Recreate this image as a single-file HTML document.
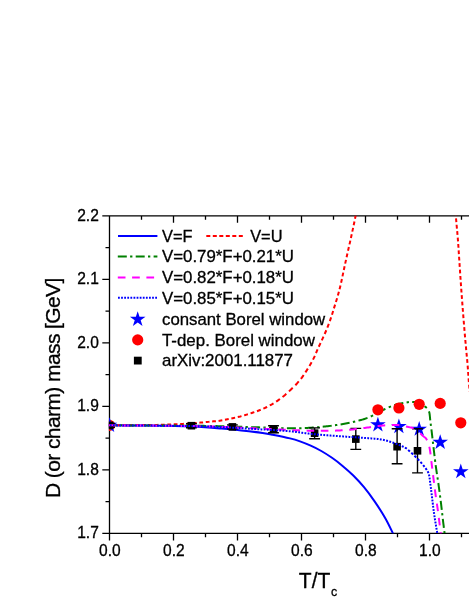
<!DOCTYPE html><html><head><meta charset="utf-8"><style>html,body{margin:0;padding:0;background:#fff}body{width:469px;height:607px;overflow:hidden}svg{display:block;will-change:transform}text{font-family:"Liberation Sans",sans-serif;fill:#000;stroke:#000;stroke-width:0.3px}</style></head><body>
<svg width="469" height="607" viewBox="0 0 469 607">
<rect width="469" height="607" fill="#fff"/>
<defs><clipPath id="cp"><rect x="108.9" y="215.8" width="400" height="317.5"/></clipPath></defs>
<path d="M109.5,215.2 V533.9 M108.8,533.3 H469 M108.8,215.8 H469 M109.50,533.3 v7.2 M141.50,533.3 v4.0 M141.50,215.8 v4.0 M173.50,533.3 v7.2 M173.50,215.8 v7.0 M205.50,533.3 v4.0 M205.50,215.8 v4.0 M237.50,533.3 v7.2 M237.50,215.8 v7.0 M269.50,533.3 v4.0 M269.50,215.8 v4.0 M301.50,533.3 v7.2 M301.50,215.8 v7.0 M333.50,533.3 v4.0 M333.50,215.8 v4.0 M365.50,533.3 v7.2 M365.50,215.8 v7.0 M397.50,533.3 v4.0 M397.50,215.8 v4.0 M429.50,533.3 v7.2 M429.50,215.8 v7.0 M461.50,533.3 v4.0 M461.50,215.8 v4.0 M109.5,215.80 h-7.2 M109.5,247.55 h-4.0 M109.5,279.30 h-7.2 M109.5,311.05 h-4.0 M109.5,342.80 h-7.2 M109.5,374.55 h-4.0 M109.5,406.30 h-7.2 M109.5,438.05 h-4.0 M109.5,469.80 h-7.2 M109.5,501.55 h-4.0 M109.5,533.30 h-7.2" stroke="#000" stroke-width="1.3" fill="none"/>
<g clip-path="url(#cp)" fill="none" stroke-width="2" stroke-linejoin="round">
<path d="M108.00,425.30 C115.00,425.33 138.83,425.40 150.00,425.50 C161.17,425.60 168.17,425.75 175.00,425.90 C181.83,426.05 186.00,426.18 191.00,426.40 C196.00,426.62 200.17,426.87 205.00,427.20 C209.83,427.53 213.95,427.87 220.00,428.40 C226.05,428.93 234.20,429.63 241.30,430.40 C248.40,431.17 257.38,432.28 262.60,433.00 C267.82,433.72 268.03,433.80 272.60,434.70 C277.17,435.60 285.43,437.28 290.00,438.40 C294.57,439.52 296.55,440.18 300.00,441.40 C303.45,442.62 307.15,444.10 310.70,445.70 C314.25,447.30 317.75,448.98 321.30,451.00 C324.85,453.02 328.45,455.32 332.00,457.80 C335.55,460.28 339.05,462.95 342.60,465.90 C346.15,468.85 349.73,471.95 353.30,475.50 C356.87,479.05 360.45,482.88 364.00,487.20 C367.55,491.52 371.05,496.23 374.60,501.40 C378.15,506.57 382.27,512.92 385.30,518.20 C388.33,523.48 391.02,529.47 392.80,533.10 C394.58,536.73 395.47,538.85 396.00,540.00" stroke="#0000ff"/>
<path d="M109.76,425.29 L111.01,425.28 L112.26,425.27 L113.51,425.27 M116.16,425.25 L117.41,425.25 L118.66,425.24 L119.91,425.23 M122.56,425.22 L123.81,425.21 L125.06,425.21 L126.31,425.20 M128.96,425.18 L130.21,425.18 L131.46,425.17 L132.71,425.16 M135.36,425.14 L136.61,425.13 L137.86,425.12 L139.11,425.11 M141.76,425.09 L143.01,425.08 L144.26,425.07 L145.51,425.06 M148.16,425.03 L149.41,425.01 L150.66,424.99 L151.91,424.97 M154.56,424.93 L155.81,424.90 L157.06,424.88 L158.31,424.85 M160.96,424.79 L162.21,424.76 L163.46,424.73 L164.71,424.69 M167.36,424.61 L168.61,424.56 L169.86,424.51 L171.11,424.47 M173.76,424.35 L175.01,424.30 L176.26,424.24 L177.51,424.18 M180.16,424.04 L181.41,423.97 L182.66,423.90 L183.91,423.82 M186.56,423.65 L187.81,423.57 L189.06,423.48 L190.31,423.40 M192.96,423.20 L194.21,423.11 L195.46,423.02 L196.71,422.92 M199.36,422.71 L200.61,422.60 L201.86,422.49 L203.11,422.38 M205.76,422.12 L207.01,422.00 L208.26,421.87 L209.51,421.75 M212.16,421.48 L213.41,421.36 L214.66,421.24 L215.91,421.13 M218.56,420.92 L219.81,420.73 L221.06,420.52 L222.31,420.29 M224.96,419.76 L226.21,419.50 L227.46,419.24 L228.71,418.98 M231.36,418.42 L232.61,418.16 L233.86,417.90 L235.11,417.64 M237.76,417.06 L239.01,416.77 L240.26,416.47 L241.51,416.14 M244.16,415.40 L245.41,415.03 L246.66,414.64 L247.91,414.25 M250.56,413.38 L251.81,412.96 L253.06,412.54 L254.31,412.11 M256.96,411.19 L258.21,410.73 L259.46,410.26 L260.71,409.78 M263.36,408.67 L264.61,408.09 L265.86,407.49 L267.11,406.86 M269.76,405.45 L271.01,404.76 L272.26,404.06 L273.51,403.32 M276.16,401.64 L277.41,400.80 L278.66,399.93 L279.91,399.04 M282.56,397.05 L283.81,396.04 L285.06,394.98 L286.31,393.86 M288.96,391.37 L290.21,390.18 L291.46,388.99 L292.71,387.80 M295.35,385.20 L296.53,383.95 L297.67,382.70 L298.76,381.45 M300.92,378.80 L301.87,377.55 L302.77,376.30 L303.64,375.05 M305.42,372.40 L306.24,371.15 L307.05,369.90 L307.84,368.65 M309.45,366.00 L310.19,364.75 L310.90,363.50 L311.60,362.25 M313.01,359.60 L313.65,358.35 L314.27,357.10 L314.87,355.85 M316.02,353.20 L316.52,351.95 L317.04,350.70 L317.57,349.45 M318.77,346.80 L319.36,345.55 L319.94,344.30 L320.53,343.05 M321.78,340.40 L322.36,339.15 L322.93,337.90 L323.49,336.65 M324.67,334.00 L325.22,332.75 L325.76,331.50 L326.29,330.25 M327.36,327.60 L327.85,326.35 L328.34,325.10 L328.81,323.85 M329.80,321.20 L330.25,319.95 L330.69,318.70 L331.12,317.45 M331.99,314.80 L332.38,313.55 L332.76,312.30 L333.14,311.05 M333.94,308.40 L334.32,307.15 L334.71,305.90 L335.10,304.65 M335.93,302.00 L336.32,300.75 L336.71,299.50 L337.09,298.25 M337.86,295.60 L338.21,294.35 L338.55,293.10 L338.88,291.85 M339.56,289.20 L339.87,287.95 L340.17,286.70 L340.47,285.45 M341.09,282.80 L341.38,281.55 L341.65,280.30 L341.92,279.05 M342.47,276.40 L342.73,275.15 L342.99,273.90 L343.25,272.65 M343.81,270.00 L344.08,268.75 L344.35,267.50 L344.61,266.25 M345.19,263.60 L345.46,262.35 L345.73,261.10 L346.00,259.85 M346.58,257.20 L346.86,255.95 L347.14,254.70 L347.42,253.45 M348.02,250.80 L348.31,249.55 L348.60,248.30 L348.88,247.05 M349.49,244.40 L349.77,243.15 L350.05,241.90 L350.33,240.65 M350.91,238.00 L351.19,236.75 L351.46,235.50 L351.74,234.25 M352.31,231.60 L352.58,230.35 L352.85,229.10 L353.12,227.85 M353.67,225.20 L353.94,223.95 L354.20,222.70 L354.46,221.45 M355.00,218.80 L355.26,217.55 L355.52,216.30 L355.78,215.05 M356.31,212.40 L356.57,211.15 L356.82,209.90 L357.07,208.65" stroke="#ff0000" stroke-width="2"/>
<path d="M455.20,206.00 L455.27,207.11 L455.33,208.22 L455.40,209.33 M455.56,211.98 L455.64,213.23 L455.73,214.48 L455.82,215.73 M456.02,218.38 L456.13,219.63 L456.24,220.88 L456.35,222.13 M456.59,224.78 L456.70,226.03 L456.82,227.28 L456.94,228.53 M457.18,231.18 L457.29,232.43 L457.40,233.68 L457.51,234.93 M457.74,237.58 L457.84,238.83 L457.94,240.08 L458.03,241.33 M458.22,243.98 L458.31,245.23 L458.40,246.48 L458.48,247.73 M458.65,250.38 L458.73,251.63 L458.81,252.88 L458.89,254.13 M459.06,256.78 L459.15,258.03 L459.23,259.28 L459.31,260.53 M459.49,263.18 L459.57,264.43 L459.65,265.68 L459.74,266.93 M459.92,269.58 L460.00,270.83 L460.08,272.08 L460.17,273.33 M460.34,275.98 L460.43,277.23 L460.51,278.48 L460.60,279.73 M460.78,282.38 L460.87,283.63 L460.95,284.88 L461.04,286.13 M461.23,288.78 L461.32,290.03 L461.41,291.28 L461.50,292.53 M461.70,295.18 L461.79,296.43 L461.89,297.68 L461.98,298.93 M462.18,301.58 L462.28,302.83 L462.37,304.08 L462.47,305.33 M462.67,307.98 L462.77,309.23 L462.87,310.48 L462.96,311.73 M463.17,314.38 L463.27,315.63 L463.37,316.88 L463.47,318.13 M463.68,320.78 L463.79,322.03 L463.89,323.28 L463.99,324.53 M464.21,327.18 L464.32,328.43 L464.42,329.68 L464.53,330.93 M464.76,333.58 L464.86,334.83 L464.97,336.08 L465.08,337.33 M465.31,339.98 L465.42,341.23 L465.53,342.48 L465.64,343.73 M465.88,346.38 L466.00,347.63 L466.11,348.88 L466.23,350.13 M466.49,352.78 L466.61,354.03 L466.73,355.28 L466.85,356.53 M467.10,359.18 L467.21,360.43 L467.33,361.68 L467.43,362.93 M467.65,365.58 L467.75,366.83 L467.84,368.08 L467.94,369.33 M468.12,371.98 L468.21,373.23 L468.29,374.48 L468.38,375.73 M468.57,378.38 L468.67,379.63 L468.77,380.88 L468.88,382.13 M469.12,384.78 L469.23,386.03 L469.35,387.28 L469.47,388.53 M469.72,391.18 L469.80,392.00" stroke="#ff0000" stroke-width="2"/>
<path d="M108.00,425.30 L109.48,425.31 L110.97,425.31 L112.45,425.32 L113.93,425.33 L115.41,425.33 L116.90,425.34 M120.20,425.35 L121.35,425.35 L122.50,425.36 M125.80,425.37 L127.08,425.37 L128.37,425.37 L129.65,425.38 L130.94,425.38 L132.23,425.39 L133.51,425.39 L134.80,425.39 M138.10,425.41 L139.25,425.41 L140.40,425.41 M143.70,425.43 L144.98,425.43 L146.27,425.43 L147.55,425.44 L148.84,425.44 L150.13,425.45 L151.41,425.45 L152.70,425.46 M156.00,425.47 L157.15,425.48 L158.30,425.48 M161.60,425.50 L162.88,425.51 L164.17,425.51 L165.45,425.52 L166.74,425.53 L168.03,425.53 L169.31,425.54 L170.60,425.55 M173.90,425.57 L175.05,425.57 L176.20,425.58 M179.50,425.60 L180.78,425.61 L182.07,425.62 L183.35,425.63 L184.64,425.64 L185.93,425.65 L187.21,425.66 L188.50,425.67 M191.80,425.70 L192.95,425.72 L194.10,425.73 M197.40,425.77 L198.68,425.78 L199.97,425.80 L201.25,425.82 L202.54,425.84 L203.83,425.86 L205.11,425.88 L206.40,425.90 M209.70,425.96 L210.85,425.98 L212.00,426.01 M215.30,426.08 L216.58,426.11 L217.87,426.14 L219.15,426.17 L220.44,426.20 L221.73,426.23 L223.01,426.27 L224.30,426.30 M227.60,426.39 L228.75,426.42 L229.90,426.46 M233.20,426.55 L234.48,426.59 L235.77,426.63 L237.05,426.67 L238.34,426.71 L239.63,426.76 L240.91,426.80 L242.20,426.84 M245.50,426.95 L246.65,426.98 L247.80,427.02 M251.10,427.13 L252.38,427.17 L253.67,427.21 L254.95,427.25 L256.24,427.29 L257.53,427.33 L258.81,427.37 L260.10,427.40 M263.40,427.50 L264.55,427.53 L265.70,427.57 M269.00,427.67 L270.28,427.72 L271.57,427.76 L272.85,427.81 L274.14,427.85 L275.43,427.90 L276.71,427.94 L278.00,427.99 M281.30,428.10 L282.45,428.13 L283.60,428.17 M286.90,428.25 L288.18,428.27 L289.47,428.29 L290.75,428.31 L292.04,428.32 L293.33,428.32 L294.61,428.32 L295.90,428.31 M299.20,428.24 L300.35,428.20 L301.50,428.16 M304.80,428.01 L306.08,427.95 L307.37,427.88 L308.65,427.81 L309.94,427.74 L311.23,427.66 L312.51,427.58 L313.80,427.50 M317.10,427.25 L318.25,427.15 L319.40,427.05 M322.70,426.74 L323.98,426.61 L325.27,426.48 L326.55,426.33 L327.84,426.19 L329.13,426.04 L330.41,425.88 L331.70,425.72 M335.00,425.27 L336.15,425.11 L337.30,424.93 M340.60,424.40 L341.88,424.18 L343.17,423.95 L344.45,423.71 L345.74,423.46 L347.03,423.20 L348.31,422.94 L349.60,422.67 M352.90,421.95 L354.05,421.69 L355.20,421.42 M358.50,420.63 L359.78,420.30 L361.07,419.96 L362.35,419.60 L363.64,419.21 L364.93,418.80 L366.21,418.36 L367.50,417.89 M370.80,416.50 L371.95,415.95 L373.10,415.36 M376.40,413.61 L377.68,412.94 L378.97,412.25 L380.25,411.54 L381.54,410.83 L382.83,410.14 L384.11,409.50 L385.40,408.89 M388.70,407.41 L389.85,406.92 L391.00,406.44 M394.30,405.16 L395.58,404.71 L396.87,404.31 L398.15,403.96 L399.44,403.66 L400.73,403.41 L402.01,403.19 L403.30,402.99 M406.60,402.48 L407.75,402.28 L408.90,402.11 M412.20,401.90 L413.48,401.96 L414.77,402.06 L416.05,402.23 L417.34,402.49 L418.63,402.86 L419.91,403.39 L421.20,404.05 M424.50,406.19 L425.65,407.06 L426.80,408.08 M428.99,411.38 L429.37,412.67 L429.59,413.95 L429.77,415.24 L429.90,416.52 L430.01,417.81 L430.13,419.09 L430.26,420.38 M430.67,423.68 L430.82,424.83 L430.97,425.98 M431.40,429.28 L431.56,430.57 L431.72,431.85 L431.87,433.14 L432.02,434.42 L432.16,435.71 L432.31,436.99 L432.46,438.28 M432.84,441.58 L432.97,442.73 L433.10,443.88 M433.49,447.18 L433.64,448.47 L433.80,449.75 L433.95,451.04 L434.10,452.32 L434.25,453.61 L434.40,454.89 L434.55,456.18 M434.94,459.48 L435.08,460.63 L435.23,461.78 M435.65,465.08 L435.82,466.37 L436.00,467.65 L436.18,468.94 L436.37,470.22 L436.56,471.51 L436.76,472.79 L436.96,474.08 M437.47,477.38 L437.65,478.53 L437.82,479.68 M438.31,482.98 L438.50,484.27 L438.67,485.55 L438.85,486.84 L439.03,488.12 L439.20,489.41 L439.38,490.69 L439.55,491.98 M439.98,495.28 L440.13,496.43 L440.28,497.58 M440.70,500.88 L440.86,502.17 L441.02,503.45 L441.17,504.74 L441.33,506.02 L441.48,507.31 L441.63,508.59 L441.77,509.88 M442.15,513.18 L442.28,514.33 L442.41,515.48 M442.79,518.78 L442.94,520.07 L443.09,521.35 L443.24,522.64 L443.40,523.92 L443.56,525.21 L443.72,526.49 L443.87,527.78 M444.29,531.08 L444.43,532.23 L444.57,533.38 M444.98,536.68 L445.12,537.79 L445.26,538.89 L445.40,540.00" stroke="#008000"/>
</g>
<g clip-path="url(#cp)">
<circle cx="109.5" cy="425.4" r="5.6" fill="#ff0000"/>
<circle cx="377.9" cy="409.8" r="5.6" fill="#ff0000"/>
<circle cx="398.9" cy="408.0" r="5.6" fill="#ff0000"/>
<circle cx="419.2" cy="404.3" r="5.6" fill="#ff0000"/>
<circle cx="440.2" cy="403.4" r="5.6" fill="#ff0000"/>
<circle cx="460.8" cy="422.8" r="5.6" fill="#ff0000"/>
<polygon points="109.50,417.20 111.34,422.87 117.30,422.87 112.48,426.37 114.32,432.03 109.50,428.53 104.68,432.03 106.52,426.37 101.70,422.87 107.66,422.87" fill="#0000ff"/>
<polygon points="377.90,416.70 379.74,422.37 385.70,422.37 380.88,425.87 382.72,431.53 377.90,428.03 373.08,431.53 374.92,425.87 370.10,422.37 376.06,422.37" fill="#0000ff"/>
<polygon points="398.90,418.40 400.74,424.07 406.70,424.07 401.88,427.57 403.72,433.23 398.90,429.73 394.08,433.23 395.92,427.57 391.10,424.07 397.06,424.07" fill="#0000ff"/>
<polygon points="419.20,421.00 421.04,426.67 427.00,426.67 422.18,430.17 424.02,435.83 419.20,432.33 414.38,435.83 416.22,430.17 411.40,426.67 417.36,426.67" fill="#0000ff"/>
<polygon points="440.20,434.20 442.04,439.87 448.00,439.87 443.18,443.37 445.02,449.03 440.20,445.53 435.38,449.03 437.22,443.37 432.40,439.87 438.36,439.87" fill="#0000ff"/>
<polygon points="460.80,463.50 462.64,469.17 468.60,469.17 463.78,472.67 465.62,478.33 460.80,474.83 455.98,478.33 457.82,472.67 453.00,469.17 458.96,469.17" fill="#0000ff"/>
<path d="M109.5,423.5 V427.3 M104.1,423.5 H114.9 M104.1,427.3 H114.9" stroke="#000" stroke-width="1.4" fill="none"/>
<rect x="105.7" y="421.6" width="7.6" height="7.6" fill="#000"/>
<path d="M191.4,423.7 V427.7 M186.0,423.7 H196.8 M186.0,427.7 H196.8" stroke="#000" stroke-width="1.4" fill="none"/>
<rect x="187.6" y="421.9" width="7.6" height="7.6" fill="#000"/>
<path d="M232.4,424.9 V428.9 M227.0,424.9 H237.8 M227.0,428.9 H237.8" stroke="#000" stroke-width="1.4" fill="none"/>
<rect x="228.6" y="423.1" width="7.6" height="7.6" fill="#000"/>
<path d="M273.5,425.8 V432.8 M268.1,425.8 H278.9 M268.1,432.8 H278.9" stroke="#000" stroke-width="1.4" fill="none"/>
<rect x="269.7" y="425.5" width="7.6" height="7.6" fill="#000"/>
<path d="M314.6,427.9 V438.8 M309.2,427.9 H320.0 M309.2,438.8 H320.0" stroke="#000" stroke-width="1.4" fill="none"/>
<rect x="310.8" y="429.4" width="7.6" height="7.6" fill="#000"/>
<path d="M355.8,428.4 V449.4 M350.4,428.4 H361.2 M350.4,449.4 H361.2" stroke="#000" stroke-width="1.4" fill="none"/>
<rect x="352.0" y="435.3" width="7.6" height="7.6" fill="#000"/>
<path d="M397.1,428.8 V463.8 M391.7,428.8 H402.5 M391.7,463.8 H402.5" stroke="#000" stroke-width="1.4" fill="none"/>
<rect x="393.3" y="442.9" width="7.6" height="7.6" fill="#000"/>
<path d="M417.5,428.8 V472.9 M412.1,428.8 H422.9 M412.1,472.9 H422.9" stroke="#000" stroke-width="1.4" fill="none"/>
<rect x="413.7" y="447.0" width="7.6" height="7.6" fill="#000"/>
</g>
<g clip-path="url(#cp)" fill="none" stroke-width="2" stroke-linejoin="round">
<path d="M108.00,425.30 L109.48,425.31 L110.96,425.33 L112.45,425.34 L113.93,425.35 L115.41,425.36 M122.01,425.40 L123.28,425.41 L124.54,425.42 L125.81,425.43 L127.08,425.44 L128.34,425.45 L129.61,425.46 M136.21,425.50 L137.48,425.51 L138.74,425.52 L140.01,425.53 L141.28,425.53 L142.54,425.54 L143.81,425.55 M150.41,425.60 L151.68,425.61 L152.94,425.62 L154.21,425.63 L155.48,425.64 L156.74,425.65 L158.01,425.66 M164.61,425.72 L165.88,425.73 L167.14,425.74 L168.41,425.76 L169.68,425.77 L170.94,425.78 L172.21,425.80 M178.81,425.87 L180.08,425.88 L181.34,425.90 L182.61,425.92 L183.88,425.93 L185.14,425.95 L186.41,425.97 M193.01,426.07 L194.28,426.09 L195.54,426.11 L196.81,426.14 L198.08,426.16 L199.34,426.19 L200.61,426.21 M207.21,426.38 L208.48,426.41 L209.74,426.45 L211.01,426.49 L212.28,426.53 L213.54,426.57 L214.81,426.61 M221.41,426.85 L222.68,426.89 L223.94,426.94 L225.21,427.00 L226.48,427.05 L227.74,427.10 L229.01,427.16 M235.61,427.45 L236.88,427.51 L238.14,427.57 L239.41,427.63 L240.68,427.69 L241.94,427.75 L243.21,427.82 M249.81,428.14 L251.08,428.20 L252.34,428.26 L253.61,428.32 L254.88,428.37 L256.14,428.43 L257.41,428.49 M264.01,428.77 L265.28,428.83 L266.54,428.88 L267.81,428.94 L269.08,429.00 L270.34,429.06 L271.61,429.12 M278.21,429.43 L279.48,429.49 L280.74,429.55 L282.01,429.61 L283.28,429.67 L284.54,429.73 L285.81,429.80 M292.41,430.10 L293.68,430.15 L294.94,430.21 L296.21,430.26 L297.48,430.31 L298.74,430.36 L300.01,430.40 M306.61,430.60 L307.88,430.63 L309.14,430.66 L310.41,430.69 L311.68,430.71 L312.94,430.73 L314.21,430.75 M320.81,430.80 L322.08,430.80 L323.34,430.80 L324.61,430.80 L325.88,430.80 L327.14,430.79 L328.41,430.77 M335.01,430.63 L336.28,430.58 L337.54,430.54 L338.81,430.48 L340.08,430.43 L341.34,430.37 L342.61,430.30 M349.21,429.78 L350.48,429.66 L351.74,429.53 L353.01,429.39 L354.28,429.25 L355.54,429.11 L356.81,428.95 M363.41,428.11 L364.68,427.94 L365.94,427.77 L367.21,427.59 L368.48,427.40 L369.74,427.20 L371.01,427.01 M377.61,426.11 L378.88,425.96 L380.14,425.82 L381.41,425.68 L382.68,425.56 L383.94,425.44 L385.21,425.34 M391.81,425.05 L393.08,425.03 L394.34,425.03 L395.61,425.04 L396.88,425.06 L398.14,425.11 L399.41,425.19 M406.01,426.46 L407.28,426.76 L408.54,427.07 L409.81,427.34 L411.08,427.50 L412.34,427.92 L413.61,428.61 M420.21,433.28 L421.48,434.43 L422.74,435.66 L424.01,436.72 L425.28,437.71 L426.34,438.96 L427.04,440.23 M429.32,446.83 L429.60,448.10 L429.84,449.36 L430.04,450.63 L430.22,451.90 L430.39,453.16 L430.54,454.43 M431.33,461.03 L431.49,462.30 L431.65,463.56 L431.81,464.83 L431.97,466.10 L432.12,467.36 L432.28,468.63 M433.09,475.23 L433.25,476.50 L433.41,477.76 L433.57,479.03 L433.72,480.30 L433.88,481.56 L434.04,482.83 M434.87,489.43 L435.04,490.70 L435.21,491.96 L435.38,493.23 L435.55,494.50 L435.73,495.76 L435.91,497.03 M436.88,503.63 L437.07,504.90 L437.25,506.16 L437.43,507.43 L437.61,508.70 L437.79,509.96 L437.96,511.23 M438.83,517.83 L438.99,519.10 L439.15,520.36 L439.31,521.63 L439.46,522.90 L439.62,524.16 L439.78,525.43 M440.60,532.03 L440.76,533.30 L440.92,534.56 L441.08,535.83 L441.24,537.10 L441.40,538.36 L441.55,539.63" stroke="#ff00ff"/>
<path d="M108.00,425.30 L108.48,425.30 M109.82,425.32 L110.72,425.33 L111.62,425.33 M112.96,425.35 L113.86,425.35 L114.76,425.36 M116.10,425.37 L117.00,425.38 L117.90,425.38 M119.24,425.39 L120.14,425.40 L121.04,425.40 M122.38,425.41 L123.28,425.42 L124.18,425.43 M125.52,425.43 L126.42,425.44 L127.32,425.45 M128.66,425.46 L129.56,425.46 L130.46,425.47 M131.80,425.48 L132.70,425.48 L133.60,425.49 M134.94,425.50 L135.84,425.50 L136.74,425.51 M138.08,425.52 L138.98,425.53 L139.88,425.53 M141.22,425.54 L142.12,425.55 L143.02,425.56 M144.36,425.57 L145.26,425.57 L146.16,425.58 M147.50,425.59 L148.40,425.60 L149.30,425.60 M150.64,425.62 L151.54,425.62 L152.44,425.63 M153.78,425.64 L154.68,425.65 L155.58,425.66 M156.92,425.67 L157.82,425.68 L158.72,425.69 M160.06,425.70 L160.96,425.71 L161.86,425.72 M163.20,425.73 L164.10,425.74 L165.00,425.75 M166.34,425.76 L167.24,425.77 L168.14,425.78 M169.48,425.79 L170.38,425.80 L171.28,425.81 M172.62,425.83 L173.52,425.84 L174.42,425.85 M175.76,425.87 L176.66,425.88 L177.56,425.89 M178.90,425.91 L179.80,425.92 L180.70,425.93 M182.04,425.95 L182.94,425.97 L183.84,425.98 M185.18,426.00 L186.08,426.02 L186.98,426.03 M188.32,426.05 L189.22,426.07 L190.12,426.09 M191.46,426.11 L192.36,426.13 L193.26,426.15 M194.60,426.17 L195.50,426.19 L196.40,426.21 M197.74,426.24 L198.64,426.27 L199.54,426.29 M200.88,426.32 L201.78,426.35 L202.68,426.37 M204.02,426.41 L204.92,426.44 L205.82,426.47 M207.16,426.51 L208.06,426.55 L208.96,426.58 M210.30,426.62 L211.20,426.66 L212.10,426.69 M213.44,426.74 L214.34,426.78 L215.24,426.82 M216.58,426.87 L217.48,426.91 L218.38,426.95 M219.72,427.01 L220.62,427.05 L221.52,427.09 M222.86,427.16 L223.76,427.20 L224.66,427.25 M226.00,427.31 L226.90,427.36 L227.80,427.41 M229.14,427.48 L230.04,427.53 L230.94,427.57 M232.28,427.65 L233.18,427.70 L234.08,427.75 M235.42,427.83 L236.32,427.88 L237.22,427.93 M238.56,428.01 L239.46,428.06 L240.36,428.12 M241.70,428.20 L242.60,428.25 L243.50,428.31 M244.84,428.39 L245.74,428.44 L246.64,428.50 M247.98,428.58 L248.88,428.64 L249.78,428.69 M251.12,428.77 L252.02,428.83 L252.92,428.88 M254.26,428.97 L255.16,429.02 L256.06,429.07 M257.40,429.15 L258.30,429.20 L259.20,429.25 M260.54,429.33 L261.44,429.38 L262.34,429.43 M263.68,429.51 L264.58,429.56 L265.48,429.61 M266.82,429.69 L267.72,429.74 L268.62,429.79 M269.96,429.87 L270.86,429.92 L271.76,429.98 M273.10,430.06 L274.00,430.12 L274.90,430.17 M276.24,430.26 L277.14,430.32 L278.04,430.38 M279.38,430.47 L280.28,430.53 L281.18,430.60 M282.52,430.70 L283.42,430.76 L284.32,430.83 M285.66,430.94 L286.56,431.01 L287.46,431.08 M288.80,431.20 L289.70,431.27 L290.60,431.35 M291.94,431.48 L292.84,431.57 L293.74,431.67 M295.08,431.82 L295.98,431.93 L296.88,432.04 M298.22,432.22 L299.12,432.34 L300.02,432.47 M301.36,432.66 L302.26,432.79 L303.16,432.92 M304.50,433.10 L305.40,433.21 L306.30,433.32 M307.64,433.47 L308.54,433.57 L309.44,433.67 M310.78,433.81 L311.68,433.91 L312.58,434.00 M313.92,434.14 L314.82,434.23 L315.72,434.32 M317.06,434.46 L317.96,434.54 L318.86,434.63 M320.20,434.75 L321.10,434.84 L322.00,434.92 M323.34,435.03 L324.24,435.11 L325.14,435.19 M326.48,435.29 L327.38,435.36 L328.28,435.43 M329.62,435.52 L330.52,435.59 L331.42,435.65 M332.76,435.74 L333.66,435.80 L334.56,435.86 M335.90,435.94 L336.80,436.00 L337.70,436.06 M339.04,436.15 L339.94,436.21 L340.84,436.27 M342.18,436.37 L343.08,436.43 L343.98,436.50 M345.32,436.59 L346.22,436.65 L347.12,436.72 M348.46,436.81 L349.36,436.88 L350.26,436.94 M351.60,437.04 L352.50,437.10 L353.40,437.16 M354.74,437.26 L355.64,437.32 L356.54,437.38 M357.88,437.48 L358.78,437.54 L359.68,437.60 M361.02,437.69 L361.92,437.75 L362.82,437.81 M364.16,437.90 L365.06,437.96 L365.96,438.02 M367.30,438.11 L368.20,438.18 L369.10,438.24 M370.44,438.34 L371.34,438.40 L372.24,438.46 M373.58,438.56 L374.48,438.63 L375.38,438.72 M376.72,438.86 L377.62,438.98 L378.52,439.10 M379.86,439.30 L380.76,439.44 L381.66,439.60 M383.00,439.85 L383.90,440.04 L384.80,440.25 M386.14,440.58 L387.04,440.82 L387.94,441.07 M389.28,441.46 L390.18,441.74 L391.08,442.02 M392.42,442.46 L393.32,442.76 L394.22,443.08 M395.56,443.57 L396.46,443.92 L397.36,444.28 M398.70,444.82 L399.60,445.20 L400.50,445.57 M401.84,446.14 L402.74,446.53 L403.64,446.90 M404.98,447.44 L405.88,448.08 L406.78,448.79 M408.12,449.92 L409.02,450.71 L409.92,451.51 M411.26,452.73 L412.16,453.56 L413.06,454.40 M414.40,455.67 L415.30,456.54 L416.20,457.43 M417.52,458.77 L418.38,459.67 L419.23,460.57 M420.46,461.91 L421.26,462.81 L422.03,463.71 M423.12,465.05 L423.81,465.95 L424.49,466.85 M425.51,468.19 L426.18,469.09 L426.81,469.99 M427.62,471.33 L428.08,472.23 L428.46,473.13 M428.91,474.47 L429.14,475.37 L429.33,476.27 M429.56,477.61 L429.68,478.51 L429.80,479.41 M429.96,480.75 L430.06,481.65 L430.17,482.55 M430.34,483.89 L430.47,484.79 L430.59,485.69 M430.77,487.03 L430.88,487.93 L430.99,488.83 M431.16,490.17 L431.26,491.07 L431.37,491.97 M431.53,493.31 L431.64,494.21 L431.75,495.11 M431.91,496.45 L432.02,497.35 L432.13,498.25 M432.30,499.59 L432.41,500.49 L432.52,501.39 M432.69,502.73 L432.80,503.63 L432.91,504.53 M433.07,505.87 L433.18,506.77 L433.30,507.67 M433.47,509.01 L433.58,509.91 L433.70,510.81 M433.88,512.15 L434.01,513.05 L434.13,513.95 M434.33,515.29 L434.46,516.19 L434.60,517.09 M434.81,518.43 L434.95,519.33 L435.10,520.23 M435.32,521.57 L435.47,522.47 L435.61,523.37 M435.84,524.71 L435.99,525.61 L436.14,526.51 M436.37,527.85 L436.52,528.75 L436.67,529.65 M436.90,530.99 L437.05,531.89 L437.20,532.79 M437.42,534.13 L437.57,535.03 L437.72,535.93 M437.94,537.27 L438.09,538.17 L438.24,539.07" stroke="#0000ff"/>
</g>
<text transform="translate(98.8,220.7) scale(0.985,1)" font-size="15.8" text-anchor="end">2.2</text>
<text transform="translate(98.8,284.2) scale(0.985,1)" font-size="15.8" text-anchor="end">2.1</text>
<text transform="translate(98.8,347.7) scale(0.985,1)" font-size="15.8" text-anchor="end">2.0</text>
<text transform="translate(98.8,411.2) scale(0.985,1)" font-size="15.8" text-anchor="end">1.9</text>
<text transform="translate(98.8,474.7) scale(0.985,1)" font-size="15.8" text-anchor="end">1.8</text>
<text transform="translate(98.8,538.2) scale(0.985,1)" font-size="15.8" text-anchor="end">1.7</text>
<text transform="translate(109.8,556.3) scale(0.985,1)" font-size="15.8" text-anchor="middle">0.0</text>
<text transform="translate(173.8,556.3) scale(0.985,1)" font-size="15.8" text-anchor="middle">0.2</text>
<text transform="translate(237.8,556.3) scale(0.985,1)" font-size="15.8" text-anchor="middle">0.4</text>
<text transform="translate(301.8,556.3) scale(0.985,1)" font-size="15.8" text-anchor="middle">0.6</text>
<text transform="translate(365.8,556.3) scale(0.985,1)" font-size="15.8" text-anchor="middle">0.8</text>
<text transform="translate(429.8,556.3) scale(0.985,1)" font-size="15.8" text-anchor="middle">1.0</text>
<text transform="translate(298.8,587.5) scale(0.955,1)" font-size="22">T/T</text>
<text x="331" y="596.3" font-size="12.4">c</text>
<text transform="translate(59.7,498) rotate(-90)" font-size="21" textLength="220.4" lengthAdjust="spacing">D (or charm) mass [GeV]</text>
<g fill="none" stroke-width="2">
<path d="M118,235.9 H157.4" stroke="#0000ff"/>
<path d="M206.3,235.9 H243" stroke="#ff0000" stroke-dasharray="4 2.5"/>
<path d="M117.8,256.5 H157.4" stroke="#008000" stroke-dasharray="9 3.3 2.3 3.3"/>
<path d="M117.8,277.4 H157.4" stroke="#ff00ff" stroke-dasharray="7.7 6.6"/>
<path d="M118,297.8 H157.4" stroke="#0000ff" stroke-dasharray="1.8 1.3"/>
</g>
<polygon points="137.70,311.20 139.54,316.87 145.50,316.87 140.68,320.37 142.52,326.03 137.70,322.53 132.88,326.03 134.72,320.37 129.90,316.87 135.86,316.87" fill="#0000ff"/>
<circle cx="137.7" cy="339.9" r="5.6" fill="#ff0000"/>
<rect x="133.9" y="356.7" width="7.8" height="7.8" fill="#000"/>
<text transform="translate(162,241.8) scale(1.000,1)" font-size="16.4">V=F</text>
<text transform="translate(162,262.3) scale(1.027,1)" font-size="16.4">V=0.79*F+0.21*U</text>
<text transform="translate(162,283.2) scale(1.027,1)" font-size="16.4">V=0.82*F+0.18*U</text>
<text transform="translate(162,303.5) scale(1.027,1)" font-size="16.4">V=0.85*F+0.15*U</text>
<text transform="translate(162,325.1) scale(1.024,1)" font-size="16.4">consant Borel window</text>
<text transform="translate(162,346.0) scale(1.030,1)" font-size="16.4">T-dep. Borel window</text>
<text transform="translate(162,366.0) scale(1.030,1)" font-size="16.4">arXiv:2001.11877</text>
<text x="250.2" y="241.8" font-size="16.4">V=U</text>
</svg></body></html>
